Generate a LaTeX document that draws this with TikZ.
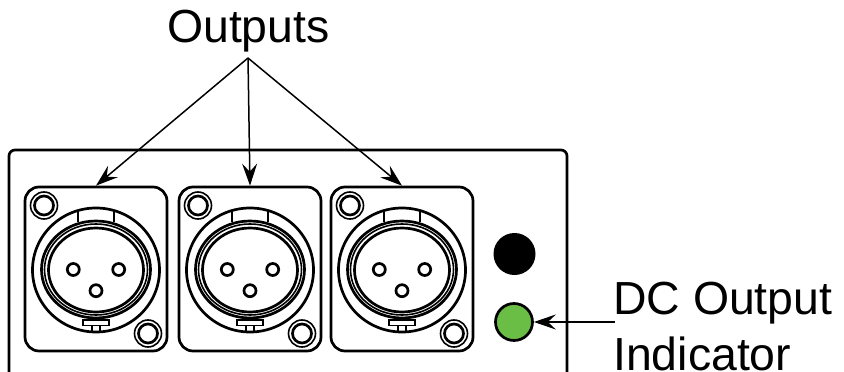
\documentclass[tikz,border=0pt]{standalone}
\usepackage{fontspec}
\setmainfont{Liberation Sans}
\usetikzlibrary{arrows.meta}
\definecolor{ledgreen}{HTML}{6ABD45}
\tikzset{
 x=1pt,y=-1pt,
 ink/.style={draw=black,line width=2.7pt},
 mid ink/.style={draw=black,line width=1.6pt},
 plate/.style={ink,rounded corners=14pt,minimum width=142pt,minimum height=164pt,inner sep=0pt,fill=white},
 call/.style={line width=1.5pt,-{Stealth[length=22pt,width=15pt,inset=8pt]}},
 lab/.style={font=\fontsize{46.4}{52}\selectfont,inner sep=0pt,anchor=base west}
}
\begin{document}
\begin{tikzpicture}
\useasboundingbox (0,0) rectangle (844,372);
\draw[line width=2.7pt,rounded corners=6pt] (9,372) -- (9,150) -- (567,150) -- (567,372);
\foreach \n/\cx in {1/96,2/250,3/402}{
 \node[plate] (p\n) at (\cx,269) {};
 \begin{scope}[shift={(\cx,269.5)}]
  % screws
  \draw[mid ink] (-52,-64) circle (13.5);
  \draw[ink] (-52,-64) circle (9.5);
  \draw[mid ink] (52,64) circle (13.5);
  \draw[ink] (52,64) circle (9.5);
  % body
  \draw[ink] (0,0.5) ellipse [x radius=63.5,y radius=62];
  \draw[ink] (0,0) ellipse [x radius=54.5,y radius=48.5];
  \draw[mid ink] (0,0) ellipse [x radius=51.5,y radius=45.5];
  \draw[ink] (0,0.5) ellipse [x radius=47.5,y radius=42];
  % top tab
  \draw[ink] (-18,-60) -- (-18,-48);
  \draw[ink] (18,-60) -- (18,-48);
  % bottom tab
  \draw[mid ink,fill=white] (-13,50.5) rectangle (13,56);
  \draw[mid ink] (-4,56) -- (-4,62) (4,56) -- (4,62);
  % pins
  \draw[ink] (-22.7,0) circle (6);
  \draw[ink] (22.7,0) circle (6);
  \draw[ink] (0,21.2) circle (6);
 \end{scope}
}
\node[circle,fill=black,inner sep=0pt,minimum size=42pt] (knob) at (514.5,254) {};
\node[circle,ink,fill=ledgreen,inner sep=0pt,minimum size=37pt] (led) at (514,322) {};
\node[lab] (out) at (167,42) {Outputs};
\node[lab] (dc) at (613,314) {DC Output};
\node[lab] (ind) at (613,370) {Indicator};
\coordinate (hub) at (248,58);
\coordinate (dcstart) at (615,322);
\draw[call] (hub) -- (p1.north);
\draw[call] (hub) -- (p2.north);
\draw[call] (hub) -- (p3.north);
\draw[call] (dcstart) -- (led.east);
\end{tikzpicture}
\end{document}
